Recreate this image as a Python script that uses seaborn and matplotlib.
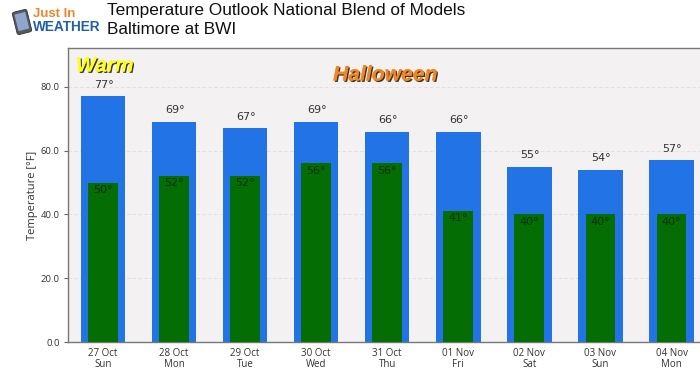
"""Temperature outlook bars for Baltimore at BWI (highs with lows in front)."""

import matplotlib
matplotlib.use("Agg")
import matplotlib.pyplot as plt
import matplotlib.patheffects as pe
from matplotlib.patches import FancyBboxPatch, Rectangle
from matplotlib.transforms import Affine2D
import pandas as pd
import seaborn as sns

DAYS = ["27 Oct\nSun", "28 Oct\nMon", "29 Oct\nTue", "30 Oct\nWed", "31 Oct\nThu",
        "01 Nov\nFri", "02 Nov\nSat", "03 Nov\nSun", "04 Nov\nMon"]
HIGHS = [77, 69, 67, 69, 66, 66, 55, 54, 57]
LOWS = [50, 52, 52, 56, 56, 41, 40, 40, 40]
Y_TICKS = [0, 20, 40, 60, 80]

BLUE = "#2273e6"
GREEN = "#046d04"
BG = "#f3f1f2"
TEXT = "#333333"

sns.set_theme(style="white")
plt.rcParams["font.family"] = ["Open Sans", "DejaVu Sans"]

df = pd.DataFrame({"day": DAYS, "high": HIGHS, "low": LOWS})

fig = plt.figure(figsize=(7.0, 3.76), dpi=100)
ax = fig.add_axes([68 / 700, 1 - 342 / 376, 632 / 700, 294 / 376])
ax.set_facecolor(BG)

sns.barplot(data=df, x="day", y="high", color=BLUE, saturation=1, width=0.625, linewidth=0, ax=ax, zorder=2)
sns.barplot(data=df, x="day", y="low", color=GREEN, saturation=1, width=0.42, linewidth=0, ax=ax, zorder=3)

ax.set_xlim(-0.49, 8.4)
ax.set_ylim(0, 92.2)
ax.set_yticks(Y_TICKS)
ax.set_yticklabels([f"{v:.1f}" for v in Y_TICKS], fontsize=6.8, color=TEXT)
ax.tick_params(axis="x", labelsize=7, labelcolor=TEXT, length=3, width=0.8, color="#666666", pad=1.5)
ax.tick_params(axis="y", length=3, width=0.8, color="#666666", pad=3, left=True)
for lab in ax.get_xticklabels():
    lab.set_linespacing(0.95)
ax.set_xlabel("")
ax.set_ylabel("Temperature [°F]", fontsize=8, color=TEXT, labelpad=2)
ax.yaxis.grid(True, color="#dddddd", linestyle=(0, (4, 3)), linewidth=0.6)
ax.set_axisbelow(True)

for side in ["left", "top", "bottom"]:
    ax.spines[side].set_color("#777777")
    ax.spines[side].set_linewidth(1.0)
ax.spines["right"].set_visible(False)

for i, (hi, lo) in enumerate(zip(HIGHS, LOWS)):
    ax.annotate(f"{hi}°", (i, hi), xytext=(0.5, 4.8), textcoords="offset points", ha="center",
                va="bottom", fontsize=8, color=TEXT, family="DejaVu Sans", zorder=5)
    ax.annotate(f"{lo}°", (i, lo), xytext=(0, -1.5), textcoords="offset points", ha="center",
                va="top", fontsize=8, color="#0d2f0d", family="DejaVu Sans", zorder=5)

# callouts, bold italic with a dark drop shadow
shadow = [pe.withSimplePatchShadow(offset=(1, -1), shadow_rgbFace="#222222", alpha=0.9), pe.Normal()]
fig.text(76 / 700, 1 - 66 / 376, "Warm", fontsize=15, fontweight="bold", style="italic", color="#ffff1a",
         family="Liberation Sans", va="center", path_effects=shadow)
fig.text(333 / 700, 1 - 75 / 376, "Halloween", fontsize=15.2, fontweight="bold", style="italic", color="#f5861f",
         family="Liberation Sans", va="center", path_effects=shadow)

# header
fig.text(107 / 700, 1 - 10 / 376, "Temperature Outlook National Blend of Models", fontsize=12.4,
         family="Liberation Sans", color="#111111", va="center")
fig.text(107 / 700, 1 - 29 / 376, "Baltimore at BWI", fontsize=12.4,
         family="Liberation Sans", color="#111111", va="center")

# logo: tilted phone plus the two word lines
logo = fig.add_axes([0, 1 - 38 / 376, 34 / 700, 30 / 376])
logo.set_xlim(0, 34)
logo.set_ylim(38, 8)
logo.axis("off")
tilt = Affine2D().rotate_deg_around(22, 22, -14) + logo.transData
logo.add_patch(FancyBboxPatch((15, 11), 14, 22, boxstyle="round,pad=0.5,rounding_size=2", facecolor="#555a62",
                              edgecolor="#333333", linewidth=0.6, transform=tilt))
logo.add_patch(Rectangle((16.5, 13), 11, 17, facecolor="#8fa7cc", edgecolor="none", transform=tilt))
fig.text(33 / 700, 1 - 14 / 376, "Just In", fontsize=9.5, fontweight="bold", color="#e8872b",
         family="Liberation Sans", va="center")
fig.text(33 / 700, 1 - 27 / 376, "WEATHER", fontsize=9.8, fontweight="bold", color="#1f5fa8",
         family="Liberation Sans", va="center")

fig.savefig("out.png", dpi=100)
